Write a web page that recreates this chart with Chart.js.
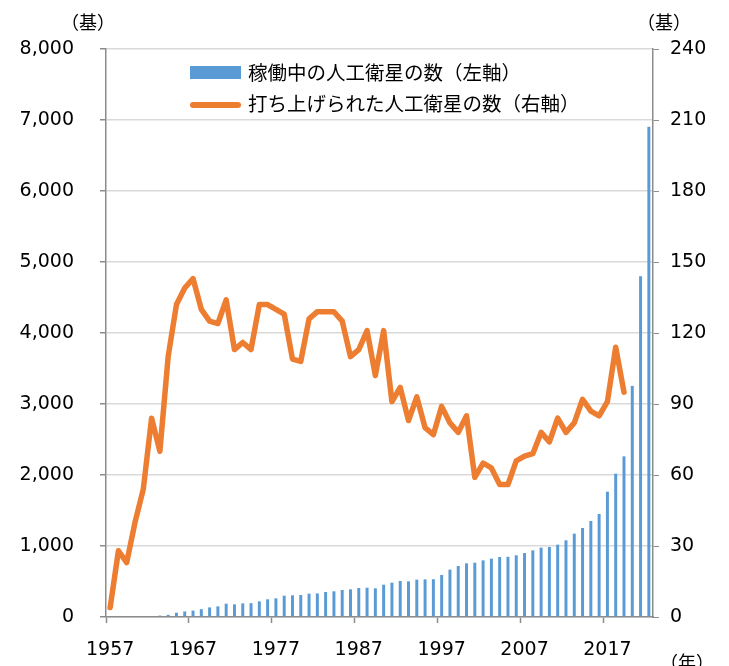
<!DOCTYPE html>
<html>
<head>
<meta charset="utf-8">
<script src="https://cdn.jsdelivr.net/npm/chart.js@4.4.0/dist/chart.umd.min.js"></script>
<style>
  html, body { margin: 0; padding: 0; background: #fff; }
  .chart-container { position: relative; width: 729px; height: 666px; }
</style>
</head>
<body>
<div class="chart-container"><canvas id="satChart"></canvas></div>
<script>
const years = [];
for (let y = 1957; y <= 2022; y++) years.push(String(y));

// 稼働中の人工衛星の数 (left axis), 1957-2022
const activeSatellites = [
  0, 0, 0, 0, 0, 12, 20, 30, 60, 78,
  90, 110, 135, 150, 188, 178, 192, 195, 220, 249,
  263, 300, 305, 310, 329, 332, 352, 362, 380, 390,
  408, 413, 404, 455, 484, 507, 502, 526, 530, 532,
  592, 667, 718, 756, 765, 798, 822, 845, 848, 869,
  901, 939, 977, 986, 1019, 1080, 1174, 1254, 1352, 1451,
  1765, 2019, 2263, 3255, 4800, 6905
];

// 打ち上げられた人工衛星の数 (right axis), 1957-2019
const launchedSatellites = [
  4, 28, 23, 40, 54, 84, 70, 110, 132, 139,
  143, 130, 125, 124, 134, 113, 116, 113, 132, 132,
  130, 128, 109, 108, 126, 129, 129, 129, 125, 110,
  113, 121, 102, 121, 91, 97, 83, 93, 80, 77,
  89, 82, 78, 85, 59, 65, 63, 56, 56, 66,
  68, 69, 78, 74, 84, 78, 82, 92, 87, 85,
  91, 114, 95, null, null, null
];

const seriesNames = ['稼働中の人工衛星の数（左軸）', '打ち上げられた人工衛星の数（右軸）'];
const BLUE = '#5b9bd5';
const ORANGE = '#ed7d31';
const AXIS = '#8c8c8c';
const GRID = '#d9d9d9';
const NUM_FONT = 'DejaVu Sans';
const JP_FONT = '"Noto Sans CJK JP", "Noto Sans", sans-serif';

const extrasPlugin = {
  id: 'extras',
  afterDraw: function(chart) {
    const c = chart.ctx;
    c.save();
    // legend
    c.fillStyle = BLUE;
    c.fillRect(190, 66, 51, 13);
    c.strokeStyle = ORANGE;
    c.lineWidth = 6;
    c.lineCap = 'round';
    c.beginPath();
    c.moveTo(193, 105);
    c.lineTo(238, 105);
    c.stroke();
    c.fillStyle = '#000';
    c.font = '19.5px ' + JP_FONT;
    c.textBaseline = 'middle';
    c.textAlign = 'left';
    c.fillText(seriesNames[0], 248, 73);
    c.fillText(seriesNames[1], 248, 104);
    // unit labels
    c.font = '18px ' + JP_FONT;
    c.textAlign = 'center';
    c.fillText('（基）', 88, 22);
    c.fillText('（基）', 664, 22);
    c.fillText('（年）', 687, 662);
    c.restore();
  }
};

const ctx = document.getElementById('satChart').getContext('2d');
const chart = new Chart(ctx, {
  type: 'bar',
  data: {
    labels: years,
    datasets: [
      {
        type: 'line',
        label: seriesNames[1],
        data: launchedSatellites,
        yAxisID: 'y1',
        borderColor: ORANGE,
        backgroundColor: ORANGE,
        borderWidth: 5.5,
        borderJoinStyle: 'round',
        borderCapStyle: 'round',
        pointRadius: 0,
        tension: 0,
        spanGaps: false,
        order: 0
      },
      {
        type: 'bar',
        label: seriesNames[0],
        data: activeSatellites,
        yAxisID: 'y',
        backgroundColor: BLUE,
        categoryPercentage: 1,
        barPercentage: 0.36,
        order: 1
      }
    ]
  },
  options: {
    responsive: true,
    maintainAspectRatio: false,
    animation: false,
    layout: { padding: { top: 49, left: 0, right: 0, bottom: 0 } },
    plugins: {
      legend: { display: false },
      tooltip: { enabled: false }
    },
    scales: {
      x: {
        offset: true,
        grid: {
          offset: true,
          drawOnChartArea: false,
          drawTicks: true,
          tickLength: 6,
          tickColor: function(c) { return (c.index % 10 === 0) ? AXIS : 'rgba(0,0,0,0)'; },
          tickWidth: 1.5
        },
        border: { color: AXIS, width: 1.5 },
        ticks: {
          autoSkip: false,
          maxRotation: 0,
          padding: 16,
          color: '#000',
          font: { family: NUM_FONT, size: 19 },
          callback: function(val, i) { return i % 10 === 0 ? this.getLabelForValue(val) : ''; }
        },
        afterFit: function(s) { s.height = 49; }
      },
      y: {
        position: 'left',
        min: 0,
        max: 8000,
        grid: { color: GRID, lineWidth: 1.5, tickLength: 6, tickColor: AXIS },
        border: { color: AXIS, width: 1.5 },
        ticks: {
          stepSize: 1000,
          padding: 26,
          color: '#000',
          font: { family: NUM_FONT, size: 19 },
          callback: function(v) { return v.toLocaleString('en-US'); }
        },
        afterFit: function(s) { s.width = 106; }
      },
      y1: {
        position: 'right',
        min: 0,
        max: 240,
        grid: { drawOnChartArea: false, tickLength: 6, tickColor: AXIS },
        border: { color: AXIS, width: 1.5 },
        ticks: {
          stepSize: 30,
          padding: 11,
          color: '#000',
          font: { family: NUM_FONT, size: 19 }
        },
        afterFit: function(s) { s.width = 76; }
      }
    }
  },
  plugins: [extrasPlugin]
});
</script>
</body>
</html>
